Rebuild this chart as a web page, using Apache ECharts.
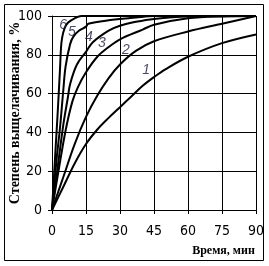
<!DOCTYPE html>
<html>
<head>
<meta charset="utf-8">
<script src="https://cdn.jsdelivr.net/npm/echarts@6/dist/echarts.min.js"></script>
<style>
	html, body { margin: 0; padding: 0; background: #fff; }
	#chart { width: 269px; height: 266px; }
</style>
</head>
<body>
<div id="chart"></div>
<script>
"use strict";

// время, мин / степень выщелачивания, %
var t1 = [0, 5, 10, 15, 20, 25, 30, 35, 40, 45, 50, 60, 75, 90];
var v1 = [0, 12, 24, 34, 41.5, 47.5, 53, 58.5, 64, 68.5, 72.5, 79, 86, 90.5];
var t2 = [0, 5, 10, 15, 20, 25, 30, 37, 45, 60, 75, 90];
var v2 = [0, 17, 34, 48, 59, 68, 75, 82, 87, 92, 96, 100];
var t3 = [0, 3, 6, 9, 11.5, 15, 20, 25, 30, 40, 45, 60, 75, 90];
var v3 = [0, 21, 41, 56, 63.5, 71, 79, 84, 88, 93, 95.5, 98.8, 99.8, 100];
var t4 = [0, 2.5, 5, 7, 8, 11, 15, 18, 25, 30, 37, 45, 60, 90];
var v4 = [0, 22, 44, 58, 65, 75, 81.5, 86.5, 92.5, 95, 97, 98.5, 99.7, 100];
var t5 = [0, 2, 3.5, 5, 6, 8, 9.5, 12, 15, 16, 25, 37, 45, 90];
var v5 = [0, 26, 42, 62, 74, 85.5, 89.5, 92.5, 94.5, 96, 97.8, 99.2, 100, 100];
var t6 = [0, 1.5, 2.5, 3.5, 4, 4.5, 5.5, 7, 10, 13, 90];
var v6 = [0, 30, 50, 72, 84, 89, 93.5, 96.5, 98.8, 100, 100];

var curveNames = ['1', '2', '3', '4', '5', '6'];
var labelT = [41.5, 32.6, 22, 16.3, 8.8, 4.9];
var labelV = [72.2, 82.5, 86.1, 89.2, 91.8, 95.4];

var xTicks = [0, 15, 30, 45, 60, 75, 90];
var yTicks = [0, 20, 40, 60, 80, 100];

function pairs(t, v) {
	var out = [];
	for (var i = 0; i < t.length; i++) {
		out.push([t[i], v[i]]);
	}
	return out;
}

var curves = [pairs(t1, v1), pairs(t2, v2), pairs(t3, v3), pairs(t4, v4), pairs(t5, v5), pairs(t6, v6)];

var myChart = echarts.init(document.getElementById('chart'), null, { renderer: 'canvas' });

var numFont = "'Liberation Sans Narrow', 'Arial Narrow', 'DejaVu Sans Condensed', sans-serif";
var serifFont = "'Liberation Serif', 'Times New Roman', serif";

var series = [];
for (var i = 0; i < curves.length; i++) {
	series.push({
		name: curveNames[i],
		type: 'line',
		data: curves[i],
		smooth: 0.35,
		symbol: 'none',
		lineStyle: { color: '#000', width: 2 },
		z: 3
	});
}

var labelData = [];
for (var j = 0; j < curveNames.length; j++) {
	labelData.push({ value: [labelT[j], labelV[j]], name: curveNames[j] });
}
series.push({
	type: 'scatter',
	data: labelData,
	symbolSize: 0,
	z: 5,
	label: {
		show: true,
		position: 'inside',
		formatter: function(p) { return p.name; },
		color: '#1a1a3a',
		fontFamily: 'Liberation Sans, Arial, sans-serif',
		fontStyle: 'italic',
		fontSize: 14
	}
});

var option = {
	animation: false,
	grid: {
		left: 52,
		right: 13,
		top: 16,
		bottom: 56,
		containLabel: false,
		outerBoundsMode: 'none'
	},
	xAxis: {
		type: 'value',
		min: xTicks[0],
		max: xTicks[xTicks.length - 1],
		interval: 15,
		name: 'Время, мин',
		nameLocation: 'middle',
		nameGap: 35,
		nameMoveOverlap: false,
		nameTextStyle: {
			fontFamily: serifFont,
			fontWeight: 'bold',
			fontSize: 12,
			color: '#000',
			padding: [0, 0, 0, 139]
		},
		axisLine: { lineStyle: { color: '#000', width: 1 } },
		axisTick: { show: true, length: 4, lineStyle: { color: '#000' } },
		axisLabel: {
			margin: 14,
			fontFamily: numFont,
			fontSize: 14,
			color: '#000'
		},
		splitLine: { show: true, lineStyle: { color: '#000', width: 1 } }
	},
	yAxis: {
		type: 'value',
		min: yTicks[0],
		max: yTicks[yTicks.length - 1],
		interval: 20,
		name: 'Степень выщелачивания, %',
		nameLocation: 'middle',
		nameRotate: 90,
		nameGap: 30,
		nameMoveOverlap: false,
		nameTextStyle: {
			fontFamily: serifFont,
			fontWeight: 'bold',
			fontSize: 14,
			color: '#000'
		},
		axisLine: { show: true, lineStyle: { color: '#000', width: 1 } },
		axisTick: { show: true, length: 4, lineStyle: { color: '#000' } },
		axisLabel: {
			margin: 10,
			fontFamily: numFont,
			fontSize: 14,
			color: '#000'
		},
		splitLine: { show: true, lineStyle: { color: '#000', width: 1 } }
	},
	graphic: [{
		type: 'rect',
		shape: { x: 4.5, y: 4.5, width: 259, height: 256 },
		style: { fill: 'none', stroke: '#000', lineWidth: 1 },
		silent: true
	}],
	series: series
};

myChart.setOption(option);
</script>
</body>
</html>
